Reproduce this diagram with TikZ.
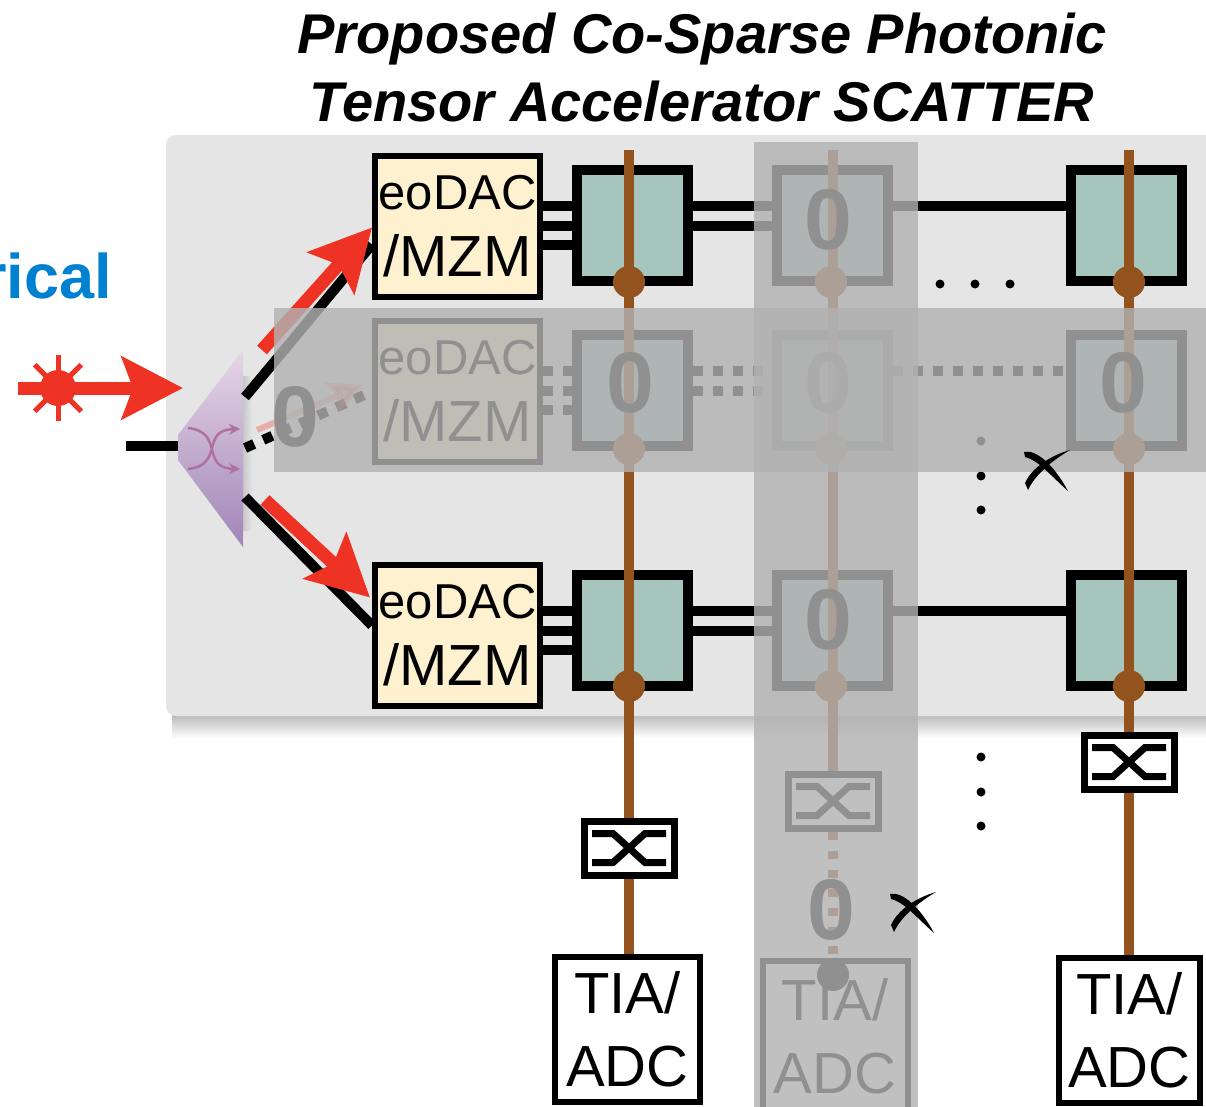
\documentclass[tikz,border=0pt]{standalone}
\usepackage{fontspec}
\setmainfont{Liberation Sans}
\usetikzlibrary{arrows.meta,calc}
\definecolor{panelgray}{HTML}{E5E5E5}
\definecolor{bandgray}{gray}{0.70}
\definecolor{ringteal}{HTML}{A5C5BD}
\definecolor{dacyellow}{HTML}{FDF1D0}
\definecolor{busbrown}{HTML}{93531E}
\definecolor{laserred}{HTML}{EE3224}
\definecolor{labelblue}{HTML}{0080D0}
\definecolor{crossmauve}{HTML}{B070A0}
\definecolor{splittop}{HTML}{E6D6E6}
\definecolor{splitbottom}{HTML}{A085B8}
\newcommand{\dactext}{\fontsize{49}{67}\selectfont eoDAC\\/MZM}
\tikzset{
	dacbox/.style = {draw, line width=6pt, fill=dacyellow, minimum width=165pt, minimum height=141pt, inner sep=0pt, align=center, font=\fontsize{58}{67}\selectfont},
	ringbox/.style = {draw, line width=10pt, fill=ringteal, minimum size=111pt},
	tiabox/.style = {draw, line width=6pt, fill=white, minimum width=145pt, minimum height=145pt, inner sep=0pt, align=center, font=\fontsize{58}{73}\selectfont},
	couplerbox/.style = {draw, line width=7pt, fill=white, minimum width=90pt, minimum height=54pt},
	wire/.style = {line width=10pt},
	dotwire/.style = {line width=10pt, dash pattern=on 10pt off 10pt},
	bus/.style = {line width=10pt, busbrown},
	busdot/.style = {circle, fill=busbrown, minimum size=32pt, inner sep=0pt},
	redarrow/.style = {line width=13pt, laserred, -{Stealth[length=61pt,width=62pt,inset=11pt]}},
	zerolabel/.style = {inner sep=0pt, font=\fontsize{86}{86}\selectfont\bfseries},
	band/.style = {fill=bandgray, opacity=0.81},
	dotmark/.style = {circle, fill=black, minimum size=9pt, inner sep=0pt},
	pics/crossing/.style = {code={
		\draw [line width=7pt] (-37,-14.5) -- (-16,-14.5) -- (16,14.5) -- (37,14.5);
		\draw [line width=7pt] (-37,14.5) -- (-16,14.5) -- (16,-14.5) -- (37,-14.5);
	}},
	pics/handcross/.style = {code={
		\fill (-22,-17) .. controls (-10,-20) and (8,-4) .. (22,22) .. controls (3,5) and (-8,-9) .. (-21,-12) -- cycle;
		\fill (24,-19) .. controls (6,-14) and (-14,-2) .. (-21,14) -- (-18,21) .. controls (-12,8) and (2,-6) .. (24,-19) -- cycle;
	}},
}
\begin{document}
\begin{tikzpicture}[x=1pt, y=-1pt]
	\useasboundingbox (0,0) rectangle (1206,1106);

	\node (title) at (702,67) [align=center, font=\fontsize{56}{68}\selectfont\bfseries\itshape] {Proposed Co-Sparse Photonic\\Tensor Accelerator SCATTER};
	\node (elabel) at (112,276) [anchor=east, inner sep=0pt, labelblue, font=\fontsize{63}{63}\selectfont\bfseries] {rical};

	% panel and its shadow
	\shade [top color=black!28, bottom color=white] (172,714) rectangle (1206,738);
	\fill [panelgray, rounded corners=10pt] (166,135) rectangle (1230,716);

	% splitter
	\shade [left color=black!22, right color=panelgray] (243,376) rectangle (252,530);
	\shade [top color=splittop, bottom color=splitbottom] (243,350) -- (178,435) -- (178,460) -- (243,547) -- cycle;
	\draw [crossmauve, line width=2.5pt, -{Stealth[length=11pt,width=11pt]}] (188,428) .. controls (225,432) and (200,468) .. (240,469);
	\draw [crossmauve, line width=2.5pt, -{Stealth[length=11pt,width=11pt]}] (188,469) .. controls (225,465) and (200,430) .. (240,429);
	\coordinate (splitin) at (178,446);
	\coordinate (splitA) at (245,397);
	\coordinate (splitC) at (245,448);
	\coordinate (splitB) at (245,497);
	\coordinate (inlet) at (126,446);
	\draw [wire] (inlet) -- (splitin);

	\node [dacbox] (mzmA) at (457.5,226.5) {\dactext};
	\node [dacbox] (mzmC) at (457.5,391.5) {\dactext};
	\node [dacbox] (mzmB) at (457.5,635.5) {\dactext};

	\foreach \col/\cx in {1/632.5, 2/832.5, 3/1126} {
		\node [ringbox] (ringA\col) at (\cx,225) {};
		\node [ringbox] (ringC\col) at (\cx,390) {};
		\node [ringbox] (ringB\col) at (\cx,630) {};
	}

	% wires from the splitter
	\draw [wire] (splitA) -- ($(mzmA.west)+(0,18)$);
	\draw [dotwire] (splitC) -- (mzmC.west);
	\draw [wire] (splitB) -- ($(mzmB.west)+(0,-10)$);

	% red light paths
	\coordinate (redAs) at (262,350);
	\coordinate (redBs) at (265,500);
	\coordinate (redCs) at (257,430);
	\coordinate (redCe) at (363,385);
	\coordinate (laserL) at (18,388);
	\coordinate (laserT) at (183,388);
	\draw [redarrow] (laserL) -- (laserT);
	\node [circle, fill=laserred, minimum size=36pt, inner sep=0pt] (laser) at (58,388) {};
	\foreach \a in {0,45,...,315}
		\draw [laserred, line width=5pt] (laser.center) -- +(\a:33);
	\draw [redarrow] (redAs) -- ($(mzmA.west)+(0,1)$);
	\draw [redarrow] (redBs) -- ($(mzmB.west)+(-2,-38)$);
	\draw [redarrow, opacity=0.3, line width=6pt, -{Stealth[length=34pt,width=34pt,inset=6pt]}] (redCs) -- (redCe);

	% wires between the rings
	\foreach \row in {A,B} {
		\foreach \dy in {-19,1,20}
			\draw [wire] ($(mzm\row.east |- ring\row1.west)+(0,\dy)$) -- ($(ring\row1.west)+(0,\dy)$);
		\foreach \dy in {-19,1}
			\draw [wire] ($(ring\row1.east)+(0,\dy)$) -- ($(ring\row2.west)+(0,\dy)$);
		\draw [wire] ($(ring\row2.east)+(0,-19)$) -- ($(ring\row3.west)+(0,-19)$);
	}
	\foreach \dy in {-19,1,20}
		\draw [dotwire] ($(mzmC.east |- ringC1.west)+(0,\dy)$) -- ($(ringC1.west)+(0,\dy)$);
	\foreach \dy in {-19,1}
		\draw [dotwire] ($(ringC1.east)+(0,\dy)$) -- ($(ringC2.west)+(0,\dy)$);
	\draw [dotwire] ($(ringC2.east)+(0,-19)$) -- ($(ringC3.west)+(0,-19)$);

	% readout
	\node [tiabox] (tia1) at (627.5,1029.5) {TIA/\\ADC};
	\node [tiabox, minimum height=150pt] (tia2) at (835,1036) {TIA/\\ADC};
	\node [tiabox, minimum width=141pt] (tia3) at (1129.5,1030) {TIA/\\ADC};
	\node [couplerbox] (cpl1) at (629,848) {};
	\node [couplerbox] (cpl2) at (833,801) {};
	\node [couplerbox] (cpl3) at (1129,762) {};
	\coordinate (top1) at (629,150);
	\coordinate (top2) at (833,150);
	\coordinate (top3) at (1129,150);
	\draw [bus] (top1) -- (cpl1);
	\draw [bus] (cpl1) -- (tia1.north -| cpl1);
	\draw [bus] (top2) -- (cpl2);
	\draw [bus, dash pattern=on 8.5pt off 10.5pt] (cpl2) -- (tia2.north -| cpl2);
	\draw [bus] (top3) -- (cpl3);
	\draw [bus] (cpl3) -- (tia3.north -| cpl3);
	\foreach \c in {1,2,3}
		\pic at (cpl\c) {crossing};
	\foreach \row/\ry in {A/282, C/449, B/686} {
		\node [busdot] (dot\row1) at (629,\ry) {};
		\node [busdot] (dot\row2) at (831,\ry) {};
		\node [busdot] (dot\row3) at (1129,\ry) {};
	}
	\node [circle, fill=black, minimum size=32pt, inner sep=0pt] (endDot) at (833,975) {};

	% zeros
	\node [zerolabel] (zeroA) at (828,220) {0};
	\node [zerolabel] (zeroB) at (828,620) {0};
	\node [zerolabel] (zeroC1) at (630,383) {0};
	\node [zerolabel] (zeroC2) at (828,383) {0};
	\node [zerolabel] (zeroC3) at (1123,383) {0};
	\node [zerolabel] (zeroS) at (295,417) {0};
	\node [zerolabel] (zeroT) at (831,910) {0};

	% ellipsis dots
	\foreach \n/\dx/\dy in {a/940/284, b/975/284, c/1010/284, d/981/441, e/981/476, f/981/510, g/981/757, h/981/792, i/981/826}
		\node [dotmark] (ell\n) at (\dx,\dy) {};

	% masked row and column
	\fill [band] (274,308) rectangle (1230,472);
	\fill [band] (754,142) rectangle (918,1130);

	\pic at (912,911) {handcross};
	\pic at (1046,469) {handcross};
\end{tikzpicture}
\end{document}
